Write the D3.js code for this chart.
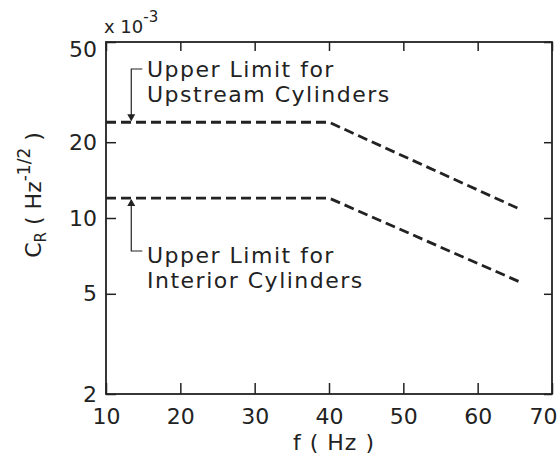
<!DOCTYPE html>
<html>
<head>
<meta charset="utf-8">
<script src="https://cdn.jsdelivr.net/npm/d3@7"></script>
<style>
    body { margin: 0; background: #fff; }
    svg text { font-family: "DejaVu Sans", sans-serif; fill: #222; }
</style>
</head>
<body>
<div id="chart"></div>
<script>
// values (C_R in units of 1e-3)
const freq = [10, 40, 65.5];
const upstream = [24, 24, 10.9];
const interior = [12, 12, 5.6];
const xTicks = [10, 20, 30, 40, 50, 60, 70];
const yTicks = [2, 5, 10, 20, 50];

const width = 557, height = 456;
const margin = { top: 42, right: 5, bottom: 62, left: 106 };

const svg = d3.select("#chart").append("svg")
    .attr("width", width)
    .attr("height", height);

const x = d3.scaleLinear()
    .domain([10, 70])
    .range([margin.left, width - margin.right]);

const y = d3.scaleLog()
    .domain([2, 50])
    .range([height - margin.bottom, margin.top]);

const ink = "#222";

// frame
svg.append("rect")
    .attr("x", x(10))
    .attr("y", y(50))
    .attr("width", x(70) - x(10))
    .attr("height", y(2) - y(50))
    .attr("fill", "none")
    .attr("stroke", ink)
    .attr("stroke-width", 1.8);

// axes with inward ticks
const axBottom = svg.append("g")
    .attr("transform", `translate(0,${y(2)})`)
    .call(d3.axisBottom(x).tickValues(xTicks).tickSize(-11).tickPadding(14).tickFormat(d3.format("d")));

const axTop = svg.append("g")
    .attr("transform", `translate(0,${y(50)})`)
    .call(d3.axisTop(x).tickValues(xTicks).tickSize(-9).tickFormat(""));

const axLeft = svg.append("g")
    .attr("transform", `translate(${x(10)},0)`)
    .call(d3.axisLeft(y).tickValues(yTicks).tickSize(-10).tickPadding(9).tickFormat(d3.format("d")));

const axRight = svg.append("g")
    .attr("transform", `translate(${x(70)},0)`)
    .call(d3.axisRight(y).tickValues(yTicks).tickSize(-8).tickFormat(""));

[axBottom, axTop, axLeft, axRight].forEach(g => {
    g.select(".domain").remove();
    g.selectAll(".tick line").attr("stroke", ink).attr("stroke-width", 1.5);
    g.selectAll(".tick text").attr("font-size", 22).attr("fill", ink)
        .style("font-family", "'DejaVu Sans', sans-serif");
});

// the original nudges a couple of labels
axBottom.selectAll(".tick text").filter(d => d === 70).attr("dx", -9);
axLeft.selectAll(".tick text").filter(d => d === 50).attr("y", 7);

// exponent note above the y axis
svg.append("text")
    .attr("x", 104)
    .attr("y", 33)
    .attr("font-size", 18)
    .text("x 10")
    .append("tspan")
    .attr("dy", -11)
    .attr("font-size", 15)
    .text("-3");

// dashed limit lines
const line = d3.line()
    .x((d, i) => x(freq[i]))
    .y(d => y(d));

[upstream, interior].forEach(series => {
    svg.append("path")
        .datum(series)
        .attr("d", line)
        .attr("fill", "none")
        .attr("stroke", ink)
        .attr("stroke-width", 2.8)
        .attr("stroke-dasharray", "10,5");
});

// annotations
const arrowX = x(13.4);

function arrowHead(xp, yp, dir) {
    // dir = 1 -> pointing down, -1 -> pointing up
    svg.append("path")
        .attr("d", `M${xp},${yp} L${xp - 4},${yp - dir * 7} L${xp + 4},${yp - dir * 7} Z`)
        .attr("fill", ink);
}

// upstream
const upY = y(upstream[0]);
svg.append("path")
    .attr("d", `M${arrowX + 11},69 L${arrowX},69 L${arrowX},${upY - 2}`)
    .attr("fill", "none")
    .attr("stroke", ink)
    .attr("stroke-width", 1.2);
arrowHead(arrowX, upY - 1, 1);

const upLabel = svg.append("text").attr("font-size", 22).attr("letter-spacing", 1.5);
upLabel.append("tspan").attr("x", 147).attr("y", 77).text("Upper Limit for");
upLabel.append("tspan").attr("x", 147).attr("y", 102).text("Upstream Cylinders");

// interior
const inY = y(interior[0]);
svg.append("path")
    .attr("d", `M${arrowX},${inY + 2} L${arrowX},251 L${arrowX + 11},251`)
    .attr("fill", "none")
    .attr("stroke", ink)
    .attr("stroke-width", 1.2);
arrowHead(arrowX, inY + 1, -1);

const inLabel = svg.append("text").attr("font-size", 22).attr("letter-spacing", 1.5);
inLabel.append("tspan").attr("x", 147).attr("y", 263).text("Upper Limit for");
inLabel.append("tspan").attr("x", 147).attr("y", 288).text("Interior Cylinders");

// axis titles
svg.append("text")
    .attr("x", 334)
    .attr("y", 450)
    .attr("text-anchor", "middle")
    .attr("font-size", 22)
    .attr("letter-spacing", 1)
    .text("f ( Hz )");

const yTitle = svg.append("text")
    .attr("transform", "translate(41,195) rotate(-90)")
    .attr("text-anchor", "middle")
    .attr("font-size", 22);
yTitle.append("tspan").text("C");
yTitle.append("tspan").attr("font-size", 15).attr("dy", 5).text("R");
yTitle.append("tspan").attr("dy", -5).text("  ( Hz");
yTitle.append("tspan").attr("font-size", 17).attr("dy", -11).text("-1/2");
yTitle.append("tspan").attr("dy", 11).text(" )");
</script>
</body>
</html>
